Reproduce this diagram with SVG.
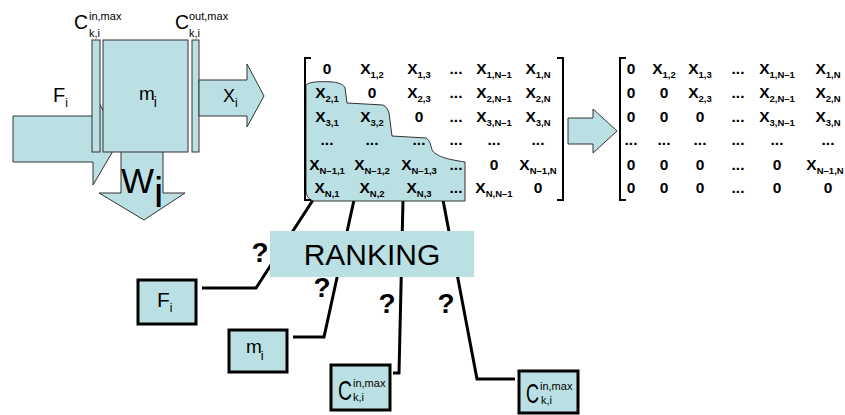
<svg xmlns="http://www.w3.org/2000/svg" width="845" height="415" viewBox="0 0 845 415">
<style>
text{font-family:"Liberation Sans",Arial,sans-serif;fill:#000}
.sh{fill:#BBE0E3;stroke:#333;stroke-width:1}
.bx{fill:#BBE0E3;stroke:#000;stroke-width:3}
.ln{fill:none;stroke:#000;stroke-width:3}
.br{fill:none;stroke:#000;stroke-width:2}
.mx{font-weight:bold;font-size:15.5px;text-anchor:middle}
.mx tspan{font-size:9.5px}
.q{font-weight:bold;font-size:28px;text-anchor:middle}
</style>
<rect width="845" height="415" fill="#fff"/>

<g id="process">
  <polygon class="sh" points="13,116 93,116 93,93 120,139 93,185 93,162 13,162"/>
  <polygon class="sh" points="121,150 163,150 163,193 185,193 144,220 99,193 121,193"/>
  <rect class="sh" x="92" y="40" width="8" height="112"/>
  <rect class="sh" x="103" y="40" width="85" height="112"/>
  <rect class="sh" x="192" y="40" width="7" height="112"/>
  <polygon class="sh" points="199,80 247,80 247,64 264,96 247,127 247,116 199,116"/>
  <text x="53" y="102" font-size="20">F<tspan font-size="12" dy="5">i</tspan></text>
  <text x="139" y="100" font-size="19">m<tspan font-size="14" dx="-1" dy="7">i</tspan></text>
  <text x="223" y="102" font-size="18">X<tspan font-size="12" dy="5">i</tspan></text>
  <text x="121" y="193" font-size="35">W<tspan font-size="42" dy="14">i</tspan></text>
  <text x="74" y="29" font-size="21"><tspan textLength="14" lengthAdjust="spacingAndGlyphs">C</tspan><tspan x="89" y="20" font-size="11">in,max</tspan><tspan x="89" y="37" font-size="11">k,i</tspan></text>
  <text x="175" y="29" font-size="21"><tspan textLength="14" lengthAdjust="spacingAndGlyphs">C</tspan><tspan x="189" y="20" font-size="11">out,max</tspan><tspan x="189" y="37" font-size="11">k,i</tspan></text>
</g>

<g id="connectors">
  <polyline class="ln" points="202,288 256,288 313,200"/>
  <polyline class="ln" points="293,337 324,337 354,200"/>
  <polyline class="ln" points="393,373 399,373 403,200"/>
  <polyline class="ln" points="515,379 477,379 443,200"/>
  <polygon class="sh" points="568,118 593,118 593,109 617,131 593,153 593,144 568,144"/>
</g>

<g id="matrix-left">
  <path class="sh" d="M306,85 C309,82 318,81 333,82 C340,83 344,85 345,88 L347,103 L383,105 C386,106 388,110 389,113 L392,136 L426,138 C430,140 431,146 432,150 C436,156 445,159 465,162 L465,201 L314,201 C309,200 306,196 306,190 Z"/>
  <path class="br" d="M311,58 H305 V200 H311"/>
  <path class="br" d="M557,58 H563 V200 H557"/>
  <text class="mx" x="327" y="74">0</text>
  <text class="mx" x="372" y="74">X<tspan dy="4">1,2</tspan></text>
  <text class="mx" x="419" y="74">X<tspan dy="4">1,3</tspan></text>
  <text class="mx" x="456" y="74">...</text>
  <text class="mx" x="494" y="74">X<tspan dy="4">1,N–1</tspan></text>
  <text class="mx" x="538" y="74">X<tspan dy="4">1,N</tspan></text>

  <text class="mx" x="327" y="98">X<tspan dy="4">2,1</tspan></text>
  <text class="mx" x="372" y="98">0</text>
  <text class="mx" x="419" y="98">X<tspan dy="4">2,3</tspan></text>
  <text class="mx" x="456" y="98">...</text>
  <text class="mx" x="494" y="98">X<tspan dy="4">2,N–1</tspan></text>
  <text class="mx" x="538" y="98">X<tspan dy="4">2,N</tspan></text>

  <text class="mx" x="327" y="122">X<tspan dy="4">3,1</tspan></text>
  <text class="mx" x="372" y="122">X<tspan dy="4">3,2</tspan></text>
  <text class="mx" x="419" y="122">0</text>
  <text class="mx" x="456" y="122">...</text>
  <text class="mx" x="494" y="122">X<tspan dy="4">3,N–1</tspan></text>
  <text class="mx" x="538" y="122">X<tspan dy="4">3,N</tspan></text>

  <text class="mx" x="327" y="145">...</text>
  <text class="mx" x="372" y="145">...</text>
  <text class="mx" x="419" y="145">...</text>
  <text class="mx" x="456" y="145">...</text>
  <text class="mx" x="494" y="145">...</text>
  <text class="mx" x="538" y="145">...</text>

  <text class="mx" x="327" y="170">X<tspan dy="4">N–1,1</tspan></text>
  <text class="mx" x="372" y="170">X<tspan dy="4">N–1,2</tspan></text>
  <text class="mx" x="419" y="170">X<tspan dy="4">N–1,3</tspan></text>
  <text class="mx" x="456" y="170">...</text>
  <text class="mx" x="494" y="170">0</text>
  <text class="mx" x="538" y="170">X<tspan dy="4">N–1,N</tspan></text>

  <text class="mx" x="327" y="193">X<tspan dy="4">N,1</tspan></text>
  <text class="mx" x="372" y="193">X<tspan dy="4">N,2</tspan></text>
  <text class="mx" x="419" y="193">X<tspan dy="4">N,3</tspan></text>
  <text class="mx" x="456" y="193">...</text>
  <text class="mx" x="494" y="193">X<tspan dy="4">N,N–1</tspan></text>
  <text class="mx" x="538" y="193">0</text>
</g>

<g id="matrix-right">
  <path class="br" d="M626,58 H620 V200 H626"/>
  <text class="mx" x="631" y="74">0</text>
  <text class="mx" x="664" y="74">X<tspan dy="4">1,2</tspan></text>
  <text class="mx" x="700" y="74">X<tspan dy="4">1,3</tspan></text>
  <text class="mx" x="738" y="74">...</text>
  <text class="mx" x="777" y="74">X<tspan dy="4">1,N–1</tspan></text>
  <text class="mx" x="828" y="74">X<tspan dy="4">1,N</tspan></text>

  <text class="mx" x="631" y="98">0</text>
  <text class="mx" x="664" y="98">0</text>
  <text class="mx" x="700" y="98">X<tspan dy="4">2,3</tspan></text>
  <text class="mx" x="738" y="98">...</text>
  <text class="mx" x="777" y="98">X<tspan dy="4">2,N–1</tspan></text>
  <text class="mx" x="828" y="98">X<tspan dy="4">2,N</tspan></text>

  <text class="mx" x="631" y="122">0</text>
  <text class="mx" x="664" y="122">0</text>
  <text class="mx" x="700" y="122">0</text>
  <text class="mx" x="738" y="122">...</text>
  <text class="mx" x="777" y="122">X<tspan dy="4">3,N–1</tspan></text>
  <text class="mx" x="828" y="122">X<tspan dy="4">3,N</tspan></text>

  <text class="mx" x="631" y="145">...</text>
  <text class="mx" x="664" y="145">...</text>
  <text class="mx" x="700" y="145">...</text>
  <text class="mx" x="738" y="145">...</text>
  <text class="mx" x="777" y="145">...</text>
  <text class="mx" x="828" y="145">...</text>

  <text class="mx" x="631" y="170">0</text>
  <text class="mx" x="664" y="170">0</text>
  <text class="mx" x="700" y="170">0</text>
  <text class="mx" x="738" y="170">...</text>
  <text class="mx" x="777" y="170">0</text>
  <text class="mx" x="825" y="170">X<tspan dy="4">N–1,N</tspan></text>

  <text class="mx" x="631" y="193">0</text>
  <text class="mx" x="664" y="193">0</text>
  <text class="mx" x="700" y="193">0</text>
  <text class="mx" x="738" y="193">...</text>
  <text class="mx" x="777" y="193">0</text>
  <text class="mx" x="828" y="193">0</text>
</g>

<g id="ranking">
  <rect x="270" y="231" width="204" height="46" fill="#BBE0E3"/>
  <text x="372" y="265" font-size="30" text-anchor="middle">RANKING</text>
</g>

<g id="questions">
  <text class="q" x="260" y="262">?</text>
  <text class="q" x="322" y="297">?</text>
  <text class="q" x="387" y="313">?</text>
  <text class="q" x="446" y="313">?</text>
</g>

<g id="box-F">
  <rect class="bx" x="138" y="280" width="58" height="44"/>
  <text x="157" y="307" font-size="21">F<tspan font-size="12" dy="5">i</tspan></text>
</g>
<g id="box-m">
  <rect class="bx" x="229" y="330" width="58" height="42"/>
  <text x="246" y="353" font-size="19">m<tspan font-size="13" dx="-1" dy="7">i</tspan></text>
</g>
<g id="box-cin1">
  <rect class="bx" x="331" y="365" width="59" height="45"/>
  <text x="338" y="400" font-size="28"><tspan textLength="14" lengthAdjust="spacingAndGlyphs">C</tspan><tspan x="353" y="387" font-size="11">in,max</tspan><tspan x="353" y="401" font-size="11">k,i</tspan></text>
</g>
<g id="box-cin2">
  <rect class="bx" x="519" y="371" width="59" height="42"/>
  <text x="526" y="403" font-size="28"><tspan textLength="13" lengthAdjust="spacingAndGlyphs">C</tspan><tspan x="540" y="390" font-size="11">in,max</tspan><tspan x="541" y="404" font-size="11">k,i</tspan></text>
</g>
</svg>
